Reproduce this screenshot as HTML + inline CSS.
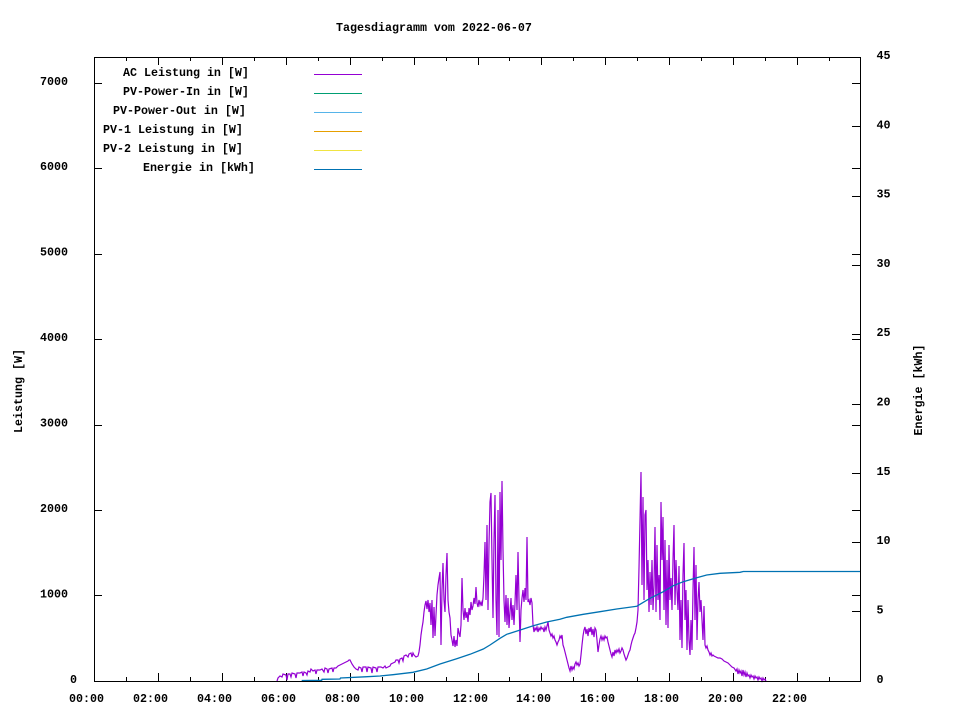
<!DOCTYPE html>
<html>
<head>
<meta charset="utf-8">
<style>
html,body{margin:0;padding:0;background:#fff;}
svg{display:block;}
text{font-family:"Liberation Mono","DejaVu Sans Mono",monospace;font-size:11.67px;font-weight:bold;fill:#000;}
</style>
</head>
<body>
<svg width="960" height="720" viewBox="0 0 960 720" xmlns="http://www.w3.org/2000/svg">
<rect x="0" y="0" width="960" height="720" fill="#fff"/>

<!-- Title -->
<text x="336" y="31">Tagesdiagramm vom 2022-06-07</text>

<!-- Axis labels -->
<text transform="translate(22,391) rotate(-90)" text-anchor="middle">Leistung [W]</text>
<text transform="translate(922,390) rotate(-90)" text-anchor="middle">Energie [kWh]</text>

<!-- Ticks -->
<g stroke="#000" stroke-width="1" shape-rendering="crispEdges">
  <!-- x ticks bottom (major even hours 8px, minor 4px) and top mirrored -->
  <line x1="126.5" y1="681" x2="126.5" y2="677"/><line x1="126.5" y1="57" x2="126.5" y2="61"/>
  <line x1="158.5" y1="681" x2="158.5" y2="673"/><line x1="158.5" y1="57" x2="158.5" y2="65"/>
  <line x1="190.5" y1="681" x2="190.5" y2="677"/><line x1="190.5" y1="57" x2="190.5" y2="61"/>
  <line x1="222.5" y1="681" x2="222.5" y2="673"/><line x1="222.5" y1="57" x2="222.5" y2="65"/>
  <line x1="254.5" y1="681" x2="254.5" y2="677"/><line x1="254.5" y1="57" x2="254.5" y2="61"/>
  <line x1="286.5" y1="681" x2="286.5" y2="673"/><line x1="286.5" y1="57" x2="286.5" y2="65"/>
  <line x1="318.5" y1="681" x2="318.5" y2="677"/><line x1="318.5" y1="57" x2="318.5" y2="61"/>
  <line x1="350.5" y1="681" x2="350.5" y2="673"/><line x1="350.5" y1="57" x2="350.5" y2="65"/>
  <line x1="382.5" y1="681" x2="382.5" y2="677"/><line x1="382.5" y1="57" x2="382.5" y2="61"/>
  <line x1="414.5" y1="681" x2="414.5" y2="673"/><line x1="414.5" y1="57" x2="414.5" y2="65"/>
  <line x1="446.5" y1="681" x2="446.5" y2="677"/><line x1="446.5" y1="57" x2="446.5" y2="61"/>
  <line x1="478.5" y1="681" x2="478.5" y2="673"/><line x1="478.5" y1="57" x2="478.5" y2="65"/>
  <line x1="509.5" y1="681" x2="509.5" y2="677"/><line x1="509.5" y1="57" x2="509.5" y2="61"/>
  <line x1="541.5" y1="681" x2="541.5" y2="673"/><line x1="541.5" y1="57" x2="541.5" y2="65"/>
  <line x1="573.5" y1="681" x2="573.5" y2="677"/><line x1="573.5" y1="57" x2="573.5" y2="61"/>
  <line x1="605.5" y1="681" x2="605.5" y2="673"/><line x1="605.5" y1="57" x2="605.5" y2="65"/>
  <line x1="637.5" y1="681" x2="637.5" y2="677"/><line x1="637.5" y1="57" x2="637.5" y2="61"/>
  <line x1="669.5" y1="681" x2="669.5" y2="673"/><line x1="669.5" y1="57" x2="669.5" y2="65"/>
  <line x1="701.5" y1="681" x2="701.5" y2="677"/><line x1="701.5" y1="57" x2="701.5" y2="61"/>
  <line x1="733.5" y1="681" x2="733.5" y2="673"/><line x1="733.5" y1="57" x2="733.5" y2="65"/>
  <line x1="765.5" y1="681" x2="765.5" y2="677"/><line x1="765.5" y1="57" x2="765.5" y2="61"/>
  <line x1="797.5" y1="681" x2="797.5" y2="673"/><line x1="797.5" y1="57" x2="797.5" y2="65"/>
  <line x1="829.5" y1="681" x2="829.5" y2="677"/><line x1="829.5" y1="57" x2="829.5" y2="61"/>

  <!-- y1 ticks left and mirrored right -->
  <line x1="94" y1="595.5" x2="102" y2="595.5"/><line x1="852" y1="595.5" x2="860" y2="595.5"/>
  <line x1="94" y1="510.5" x2="102" y2="510.5"/><line x1="852" y1="510.5" x2="860" y2="510.5"/>
  <line x1="94" y1="425.5" x2="102" y2="425.5"/><line x1="852" y1="425.5" x2="860" y2="425.5"/>
  <line x1="94" y1="339.5" x2="102" y2="339.5"/><line x1="852" y1="339.5" x2="860" y2="339.5"/>
  <line x1="94" y1="254.5" x2="102" y2="254.5"/><line x1="852" y1="254.5" x2="860" y2="254.5"/>
  <line x1="94" y1="168.5" x2="102" y2="168.5"/><line x1="852" y1="168.5" x2="860" y2="168.5"/>
  <line x1="94" y1="83.5" x2="102" y2="83.5"/><line x1="852" y1="83.5" x2="860" y2="83.5"/>

  <!-- y2 ticks right -->
  <line x1="852" y1="611.5" x2="860" y2="611.5"/>
  <line x1="852" y1="542.5" x2="860" y2="542.5"/>
  <line x1="852" y1="473.5" x2="860" y2="473.5"/>
  <line x1="852" y1="404.5" x2="860" y2="404.5"/>
  <line x1="852" y1="334.5" x2="860" y2="334.5"/>
  <line x1="852" y1="265.5" x2="860" y2="265.5"/>
  <line x1="852" y1="196.5" x2="860" y2="196.5"/>
  <line x1="852" y1="126.5" x2="860" y2="126.5"/>
</g>

<!-- Y1 labels -->
<text x="70" y="683">0</text>
<text x="40" y="597.5">1000</text>
<text x="40" y="512">2000</text>
<text x="40" y="426.5">3000</text>
<text x="40" y="341">4000</text>
<text x="40" y="255.5">5000</text>
<text x="40" y="170">6000</text>
<text x="40" y="85">7000</text>

<!-- Y2 labels -->
<text x="876.5" y="683">0</text>
<text x="876.5" y="613.5">5</text>
<text x="876.5" y="544">10</text>
<text x="876.5" y="475">15</text>
<text x="876.5" y="405.5">20</text>
<text x="876.5" y="336">25</text>
<text x="876.5" y="267">30</text>
<text x="876.5" y="197.5">35</text>
<text x="876.5" y="128.5">40</text>
<text x="876.5" y="59">45</text>

<!-- X labels -->
<g text-anchor="middle">
<text x="86.5" y="702">00:00</text>
<text x="150.5" y="702">02:00</text>
<text x="214.5" y="702">04:00</text>
<text x="278.5" y="702">06:00</text>
<text x="342.5" y="702">08:00</text>
<text x="406.5" y="702">10:00</text>
<text x="470.5" y="702">12:00</text>
<text x="533.5" y="702">14:00</text>
<text x="597.5" y="702">16:00</text>
<text x="661.5" y="702">18:00</text>
<text x="725.5" y="702">20:00</text>
<text x="789.5" y="702">22:00</text>
</g>

<!-- Legend -->
<text x="123" y="76">AC Leistung in [W]</text>
<text x="123" y="95">PV-Power-In in [W]</text>
<text x="113" y="114">PV-Power-Out in [W]</text>
<text x="103" y="133">PV-1 Leistung in [W]</text>
<text x="103" y="152">PV-2 Leistung in [W]</text>
<text x="143" y="171">Energie in [kWh]</text>
<g stroke-width="1" shape-rendering="crispEdges">
<line x1="314" y1="74.5" x2="362" y2="74.5" stroke="#9400d3"/>
<line x1="314" y1="93.5" x2="362" y2="93.5" stroke="#009e73"/>
<line x1="314" y1="112.5" x2="362" y2="112.5" stroke="#56b4e9"/>
<line x1="314" y1="131.5" x2="362" y2="131.5" stroke="#e69f00"/>
<line x1="314" y1="150.5" x2="362" y2="150.5" stroke="#f0e442"/>
<line x1="314" y1="169.5" x2="362" y2="169.5" stroke="#0072b2"/>
</g>

<!-- AC Leistung (purple) -->
<polyline fill="none" stroke="#9400d3" stroke-width="1.2" stroke-linejoin="miter" points="
277,681 278,678 280,676 282,677 283,674 286,675 287,680 288,674 290,674 291,677 292,673 295,674 296,678 297,673 300,673 302,672 303,676 304,672 306,673 307,675 308,671 310,672 311,669 313,671 315,670 316,674 317,670 320,670 322,669 324,672 325,668 327,669 328,673 329,669 332,668 333,672 334,668 336,668 338,666 340,665 342,664 344,663 346,662 348,661 349,660 350,660 351,662 352,664 354,667 356,669 358,670 359,667 361,668 362,672 363,667 366,667 367,672 368,667 371,668 372,673 373,667 376,668 377,672 378,667 381,667 383,668 385,666 386,668 388,667 390,666 391,664 393,663 395,662 396,660 398,660 399,663 400,659 402,658 403,661 404,656 406,655 408,657 409,654 411,653 412,657 413,653 414,655
416,657 418,656 419,652 420,645 421,635 422,628 423,622 424,612 425,605 426,601 427,609 428,600 429,612 430,603 431,625 432,600 433,638 434,607 435,636 436,615 437,595 438,585 439,578 440,572 441,645 442,590 443,563 444,600 445,612 446,575 447,553 448,600 449,612 450,618 451,635 452,640 453,646 454,636 455,647 456,640 457,646 458,628 459,633 460,637 461,625 462,578 463,610 464,620 465,608 466,618 467,612 468,622 469,608 470,615 471,602 472,610 473,606 474,598 475,604 476,587 477,603 478,607 479,600 480,605 481,602 482,606 483,598 484,575 485,542 486,600 487,525 488,610 489,545 490,502 491,493 492,560 493,618 494,540 495,495 496,600 497,635 498,510 499,637 500,492 501,560 502,481 503,550 504,600 505,622 506,595 507,625 508,598 509,628 510,612 511,598 512,620 513,605 514,625 515,603 516,575 517,610 518,552 519,600 520,642 521,610 522,598 523,590 524,602 525,588 526,600 527,537 528,602 529,600 530,605 531,598 532,603 533,625 534,632 535,628 536,630 537,627 538,632 539,628 540,630 541,627 542,629 543,628 544,632 545,627 546,630 547,626 548,622 549,630 550,633 551,636 552,634 553,638 554,636 555,640 556,642 557,645 558,642 559,640
560,636 561,638 562,635 563,645 564,648 565,652 566,656 567,660 568,664 569,668 570,671 571,666 572,670 573,667 574,669 575,664 576,662 577,665 578,663 579,666 580,664 581,655 582,645 583,636 584,630 585,627 586,634 587,629 588,636 589,628 590,632 591,627 592,635 593,629 594,637 595,628 596,630 597,640 598,652 599,645 600,639 601,636 602,640 603,637 604,640 605,636 606,638 607,637 608,642 609,646 610,650 611,654 612,657 613,652 614,656 615,650 616,653 617,650 618,652 619,649 620,653 621,651 622,648 623,650 624,654 625,657 626,660 627,658 628,655 629,652 630,650 631,645 632,641 633,638 634,635 635,633 636,628 637,622 638,610 639,568 640,520
641,472 642,585 643,497 644,600 645,515 646,510 647,590 648,560 649,612 650,572 651,605 652,560 653,610 654,585 655,527 656,612 657,545 658,600 659,575 660,620 661,502 662,560 663,517 664,610 665,540 666,625 667,560 668,628 669,545 670,600 671,578 672,610 673,560 674,525 675,605 676,560 677,590 678,610 679,566 680,640 681,600 682,648 683,575 684,543 685,620 686,590 687,650 688,600 689,640 690,655 691,620 692,650 693,590 694,547 695,620 696,565 697,640 698,600 699,582 700,612 701,600 702,620 703,640 704,606 705,645 706,648 707,646 708,650 709,652 710,655 711,653 712,656 713,655 714,656
716,657 718,658 720,658 722,659 724,661 726,662 728,663 730,665 732,667 734,668 736,671 737,669 738,674 739,670 740,673 741,671 742,676 743,670 744,675 745,672 746,677 747,673 748,676 749,675 750,678 751,675 752,677 753,676 754,679 755,676 756,678 757,677 758,680 759,677 760,679 761,678 762,681 763,678 764,680 765,679 766,681"/>

<!-- Energie (blue) -->
<polyline fill="none" stroke="#0072b2" stroke-width="1.3" points="
301.7,680.5 321.7,680.3 322,679.3 340,679 340.5,678 365,676.8 380,676 393,674.7 413,672.3 426.7,669 440,664 456.7,658.7 470,654.3 483.3,649 490,645 500,638.3 506.7,634.3 523.3,629 533.3,625.7 546.7,622 560,619.3 566.7,617.3 583.3,614.3 600,611.7 616.7,609 636.7,606.3 640,604.3 650,598.3 663.3,591.7 673.3,585.7 683.3,581.7 696.7,577.7 706.7,575 720,573.3 740,572.3 743.3,571.5 860,571.5"/>

<!-- Frame -->
<rect x="94.5" y="57.5" width="766" height="624" fill="none" stroke="#000" stroke-width="1" shape-rendering="crispEdges"/>
</svg>
</body>
</html>
